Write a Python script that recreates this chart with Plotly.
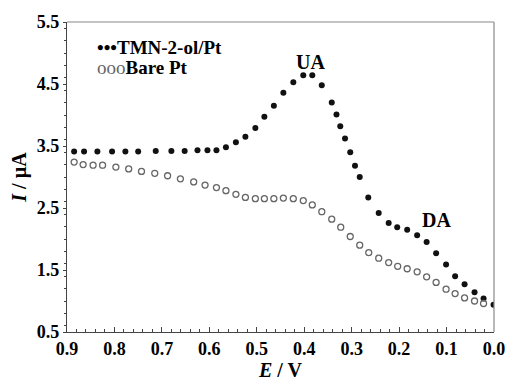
import plotly.graph_objects as go

# TMN-2-ol/Pt (filled)
tmn_E = [0.885, 0.864, 0.836, 0.805, 0.777, 0.750, 0.713, 0.680, 0.652, 0.625, 0.604, 0.585,
         0.565, 0.544, 0.524, 0.503, 0.484, 0.464, 0.444, 0.423, 0.402, 0.383, 0.363, 0.342,
         0.332, 0.324, 0.314, 0.303, 0.293, 0.283, 0.265, 0.243, 0.222, 0.204, 0.183, 0.162,
         0.142, 0.122, 0.101, 0.082, 0.062, 0.041, 0.022, 0.001]
tmn_I = [3.41, 3.41, 3.41, 3.41, 3.41, 3.41, 3.42, 3.42, 3.42, 3.43, 3.43, 3.43,
         3.48, 3.56, 3.65, 3.79, 3.97, 4.15, 4.36, 4.53, 4.64, 4.64, 4.48, 4.20,
         4.01, 3.82, 3.62, 3.40, 3.18, 3.00, 2.67, 2.42, 2.26, 2.19, 2.15, 2.06,
         1.95, 1.77, 1.59, 1.40, 1.27, 1.14, 1.04, 0.94]

# Bare Pt (open)
bare_E = [0.885, 0.866, 0.845, 0.825, 0.797, 0.770, 0.743, 0.715, 0.688, 0.661, 0.633, 0.609,
          0.585, 0.565, 0.544, 0.524, 0.503, 0.484, 0.464, 0.444, 0.423, 0.402, 0.383, 0.363,
          0.342, 0.323, 0.303, 0.283, 0.264, 0.243, 0.222, 0.203, 0.183, 0.162, 0.142, 0.122,
          0.101, 0.082, 0.062, 0.041, 0.022]
bare_I = [3.24, 3.20, 3.19, 3.19, 3.16, 3.13, 3.09, 3.06, 3.02, 2.97, 2.92, 2.87,
          2.83, 2.78, 2.72, 2.67, 2.65, 2.65, 2.65, 2.66, 2.65, 2.62, 2.55, 2.44,
          2.32, 2.19, 2.04, 1.90, 1.78, 1.69, 1.62, 1.56, 1.52, 1.47, 1.39, 1.30,
          1.19, 1.12, 1.05, 1.00, 0.96]

x_ticks = [0.9, 0.8, 0.7, 0.6, 0.5, 0.4, 0.3, 0.2, 0.1, 0.0]
y_ticks = [0.5, 1.5, 2.5, 3.5, 4.5, 5.5]

FONT = "Liberation Serif"

fig = go.Figure()
fig.add_trace(go.Scatter(x=tmn_E, y=tmn_I, mode="markers", name="TMN-2-ol/Pt",
                         marker=dict(symbol="circle", size=6, color="#111111",
                                     line=dict(width=0))))
fig.add_trace(go.Scatter(x=bare_E, y=bare_I, mode="markers", name="Bare Pt",
                         marker=dict(symbol="circle-open", size=6, color="#666666",
                                     line=dict(width=1.3))))

fig.update_layout(
    width=517, height=387,
    margin=dict(l=67, r=12, t=19, b=43),
    plot_bgcolor="white",
    showlegend=False,
    font=dict(family=FONT, color="black"),
)

fig.update_xaxes(
    range=[0.9, 0.0], tickvals=x_ticks, ticktext=[f"{v:.1f}" for v in x_ticks],
    ticks="inside", ticklen=5, tickwidth=1, tickcolor="#444",
    minor=dict(dtick=0.02, ticks="inside", ticklen=3, tickcolor="#444"),
    showline=True, linecolor="#444", linewidth=1.2, showgrid=False, zeroline=False,
    tickfont=dict(family=FONT, size=18, weight="bold"),
    title=dict(text="<b><i>E</i> / V</b>", font=dict(family=FONT, size=20),
               standoff=2),
)
fig.update_yaxes(
    range=[0.5, 5.5], tickvals=y_ticks, ticktext=[f"{v:.1f}" for v in y_ticks],
    ticks="outside", ticklen=3, tickwidth=1, tickcolor="#444",
    minor=dict(dtick=0.2, ticks="outside", ticklen=2, tickcolor="#444"),
    showline=True, linecolor="#444", linewidth=1.2, showgrid=False, zeroline=False,
    tickfont=dict(family=FONT, size=18, weight="bold"),
    title=dict(text="<b><i>I</i> / \u00b5A</b>", font=dict(family=FONT, size=20),
               standoff=4),
)

# top and right frame
fig.add_shape(type="line", xref="paper", yref="paper", x0=0, x1=1, y0=1, y1=1,
              line=dict(color="#888888", width=1.2))
fig.add_shape(type="line", xref="paper", yref="paper", x0=1, x1=1, y0=0, y1=1,
              line=dict(color="#888888", width=1.2))

# legend as text
fig.add_annotation(xref="paper", yref="paper", x=0.065, y=0.918, xanchor="left", yanchor="middle",
                   text="<b>•••TMN-2-ol/Pt</b>", showarrow=False,
                   font=dict(family=FONT, size=19))
fig.add_annotation(xref="paper", yref="paper", x=0.065, y=0.852, xanchor="left", yanchor="middle",
                   text="<span style='color:#666'>ooo</span><b>Bare Pt</b>", showarrow=False,
                   font=dict(family=FONT, size=19))

fig.add_annotation(x=0.387, y=4.85, text="<b>UA</b>", showarrow=False,
                   font=dict(family=FONT, size=20))
fig.add_annotation(x=0.122, y=2.30, text="<b>DA</b>", showarrow=False,
                   font=dict(family=FONT, size=20))

fig.write_html("out.html")
